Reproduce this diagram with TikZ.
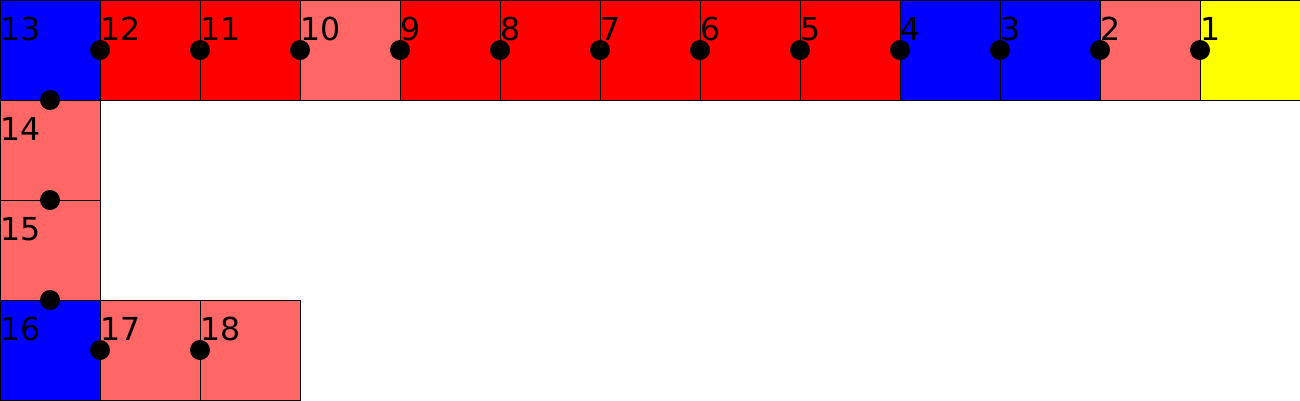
\documentclass[tikz,border=0pt]{standalone}
\usepackage{fontspec}
\setmainfont{DejaVu Sans}
\definecolor{lred}{HTML}{FF6666}
\definecolor{pred}{HTML}{FF0000}
\definecolor{pblue}{HTML}{0000FF}
\definecolor{pyellow}{HTML}{FFFF00}
\begin{document}
\begin{tikzpicture}[
  sq/.style={draw=black, line width=0.01cm, minimum size=1cm, inner sep=0pt, outer sep=0pt},
  lbl/.style={font=\fontsize{9}{10}\selectfont, inner sep=0pt, anchor=base west, text=black},
  dot/.style={fill=black}
]
\useasboundingbox (0,0) rectangle (13,-4);
\foreach \n/\x/\y/\c in {1/12.5/-0.5/pyellow, 2/11.5/-0.5/lred, 3/10.5/-0.5/pblue, 4/9.5/-0.5/pblue,
  5/8.5/-0.5/pred, 6/7.5/-0.5/pred, 7/6.5/-0.5/pred, 8/5.5/-0.5/pred, 9/4.5/-0.5/pred,
  10/3.5/-0.5/lred, 11/2.5/-0.5/pred, 12/1.5/-0.5/pred, 13/0.5/-0.5/pblue,
  14/0.5/-1.5/lred, 15/0.5/-2.5/lred, 16/0.5/-3.5/pblue, 17/1.5/-3.5/lred, 18/2.5/-3.5/lred}
  \node[sq, fill=\c] (c\n) at (\x,\y) {};
% junction dots
\foreach \n in {1,...,12} \fill[dot] (c\n.west) circle (0.1);
\foreach \n in {13,14,15} \fill[dot] (c\n.south) circle (0.1);
\foreach \n in {17,18} \fill[dot] (c\n.west) circle (0.1);
% labels
\foreach \n in {1,...,18}
  \node[lbl] (l\n) at ([yshift=-0.4cm]c\n.north west) {\n};
\end{tikzpicture}
\end{document}
